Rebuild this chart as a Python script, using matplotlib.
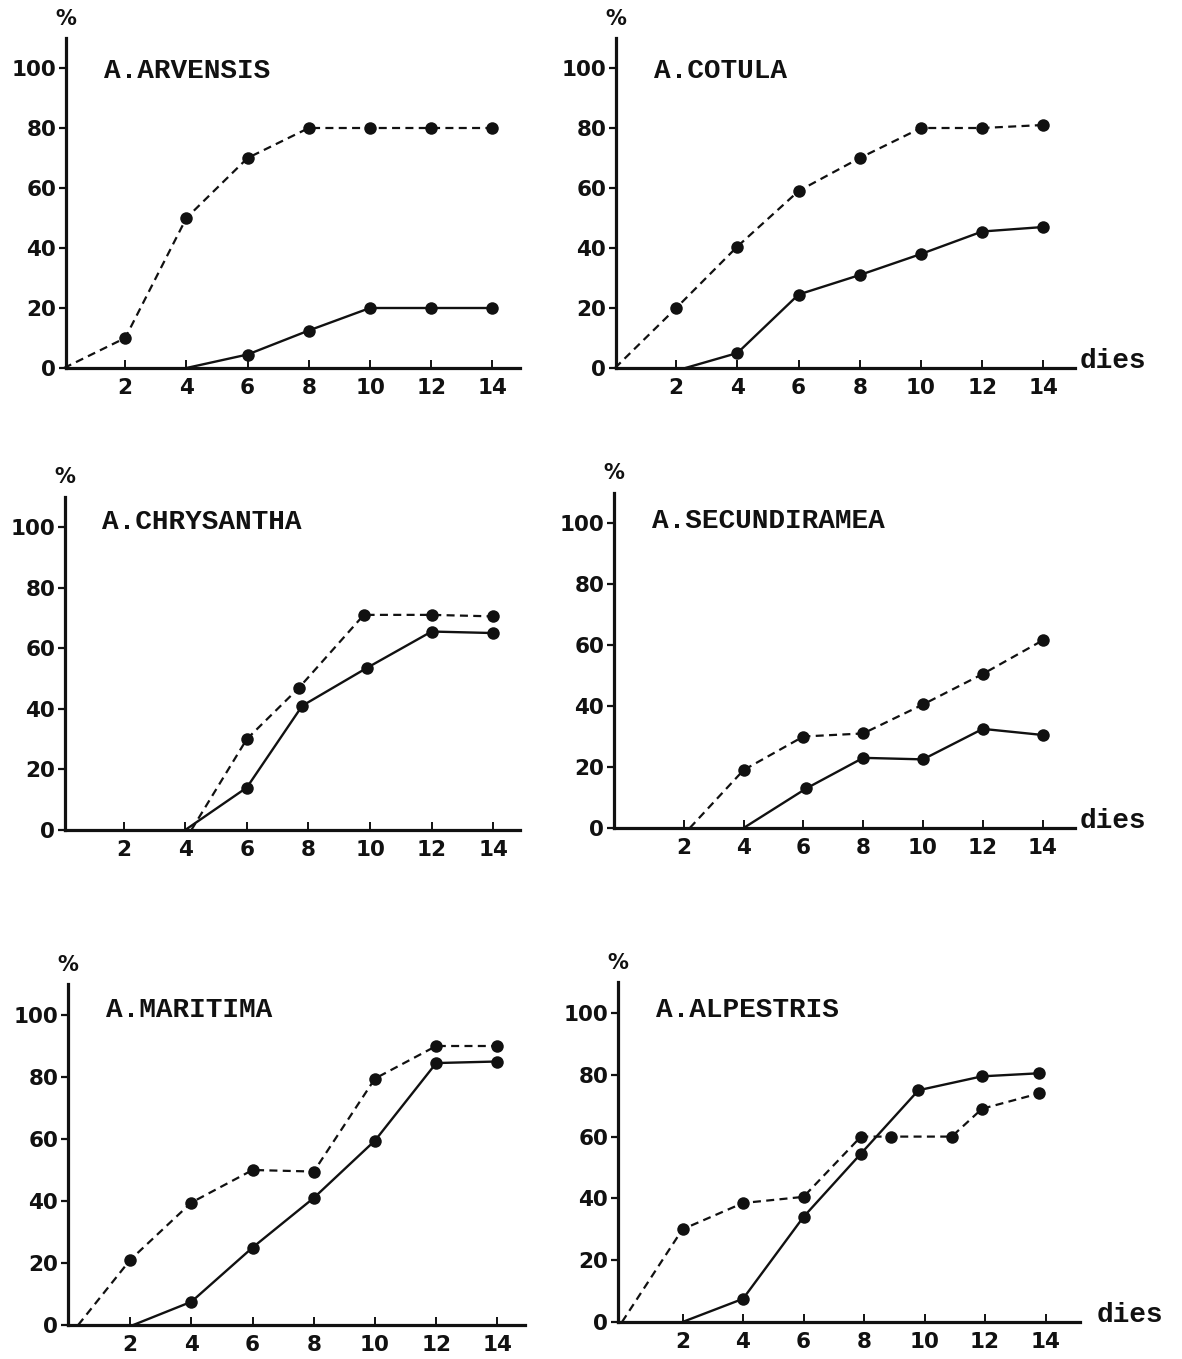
import matplotlib.pyplot as plt

# germination curves, six Anthemis species (days vs %)
species = ["A.ARVENSIS", "A.COTULA", "A.CHRYSANTHA",
           "A.SECUNDIRAMEA", "A.MARITIMA", "A.ALPESTRIS"]
day_ticks = [2, 4, 6, 8, 10, 12, 14]
pct_ticks = [0, 20, 40, 60, 80, 100]

# first point of every series is where the curve leaves the axis (no marker)
arvensis_dash_x = [0, 2, 4, 6, 8, 10, 12, 14]
arvensis_dash_y = [0, 10, 50, 70, 80, 80, 80, 80]
arvensis_solid_x = [4, 6, 8, 10, 12, 14]
arvensis_solid_y = [0, 4.5, 12.5, 20, 20, 20]

cotula_dash_x = [0, 2, 4, 6, 8, 10, 12, 14]
cotula_dash_y = [0, 20, 40.5, 59, 70, 80, 80, 81]
cotula_solid_x = [2.3, 4, 6, 8, 10, 12, 14]
cotula_solid_y = [0, 5, 24.5, 31, 38, 45.5, 47]

chrysantha_dash_x = [4.2, 6, 7.7, 9.8, 12, 14]
chrysantha_dash_y = [0, 30, 47, 71, 71, 70.5]
chrysantha_solid_x = [4, 6, 7.8, 9.9, 12, 14]
chrysantha_solid_y = [0, 14, 41, 53.5, 65.5, 65]

secundiramea_dash_x = [2.2, 4, 6, 8, 10, 12, 14]
secundiramea_dash_y = [0, 19, 30, 31, 40.5, 50.5, 61.5]
secundiramea_solid_x = [4, 6.1, 8, 10, 12, 14]
secundiramea_solid_y = [0, 13, 23, 22.5, 32.5, 30.5]

maritima_dash_x = [0.3, 2, 4, 6, 8, 10, 12, 14]
maritima_dash_y = [0, 21, 39.5, 50, 49.5, 79.5, 90, 90]
maritima_solid_x = [2.1, 4, 6, 8, 10, 12, 14]
maritima_solid_y = [0, 7.5, 25, 41, 59.5, 84.5, 85]

alpestris_dash_x = [0, 2, 4, 6, 7.9, 8.9, 10.9, 11.9, 13.8]
alpestris_dash_y = [0, 30, 38.5, 40.5, 60, 60, 60, 69, 74]
alpestris_solid_x = [2, 4, 6, 7.9, 9.8, 11.9, 13.8]
alpestris_solid_y = [0, 7.5, 34, 54.5, 75, 79.5, 80.5]

dash_x = [arvensis_dash_x, cotula_dash_x, chrysantha_dash_x,
          secundiramea_dash_x, maritima_dash_x, alpestris_dash_x]
dash_y = [arvensis_dash_y, cotula_dash_y, chrysantha_dash_y,
          secundiramea_dash_y, maritima_dash_y, alpestris_dash_y]
solid_x = [arvensis_solid_x, cotula_solid_x, chrysantha_solid_x,
           secundiramea_solid_x, maritima_solid_x, alpestris_solid_x]
solid_y = [arvensis_solid_y, cotula_solid_y, chrysantha_solid_y,
           secundiramea_solid_y, maritima_solid_y, alpestris_solid_y]
show_dies = [False, True, False, True, False, True]

W, H = 1182, 1359
INK = "#111111"

# pixel layout of each panel: left edge, right edge, pixel of day 0,
# pixels per day, pixel of 0 %, pixel of 100 %, gap before "dies", title height
layout = [
    (66, 520, 64, 30.6, 368, 68, 3, 99.0),
    (616, 1075, 615, 30.6, 368, 68, 3, 99.0),
    (65, 520, 62, 30.8, 830, 527, 3, 101.5),
    (614, 1075, 624, 29.9, 828, 523, 3, 100.5),
    (68, 525, 69, 30.6, 1325, 1015, 3, 101.5),
    (618, 1080, 622, 30.25, 1322, 1013, 12, 101.0),
]

fig = plt.figure(figsize=(W / 100, H / 100), dpi=100)
fig.patch.set_facecolor("white")

for i, name in enumerate(species):
    left, right, x0, ppd, y0, y100, gap, title_y = layout[i]
    ymax = 110
    ytop = y0 - (y0 - y100) * ymax / 100
    ax = fig.add_axes([left / W, 1 - y0 / H, (right - left) / W, (y0 - ytop) / H])
    ax.set_xlim((left - x0) / ppd, (right - x0) / ppd)
    ax.set_ylim(0, ymax)

    ax.plot(dash_x[i], dash_y[i], color=INK, lw=1.6, ls=(0, (3.6, 2.4)),
            marker="o", ms=9, mew=0, markevery=slice(1, None), clip_on=False)
    ax.plot(solid_x[i], solid_y[i], color=INK, lw=1.7, ls="-",
            marker="o", ms=9, mew=0, markevery=slice(1, None), clip_on=False)

    for side in ["top", "right"]:
        ax.spines[side].set_visible(False)
    for side in ["left", "bottom"]:
        ax.spines[side].set_linewidth(2.3)
        ax.spines[side].set_color(INK)

    ax.set_xticks(day_ticks)
    ax.set_yticks(pct_ticks)
    ax.tick_params(axis="x", direction="in", length=6, width=1.4, pad=7,
                   colors=INK, labelsize=15.5)
    ax.tick_params(axis="y", direction="out", length=5, width=1.6, pad=2,
                   colors=INK, labelsize=15.5)
    for lab in ax.get_xticklabels() + ax.get_yticklabels():
        lab.set_fontweight("bold")
        lab.set_family("DejaVu Sans")

    ax.annotate("%", xy=(0, 1), xycoords="axes fraction", xytext=(0, 14),
                textcoords="offset points", ha="center", va="center",
                fontsize=15, fontweight="bold", color=INK)
    ax.annotate(name, xy=(0, title_y), xycoords=("axes fraction", "data"),
                xytext=(27, 0), textcoords="offset points", ha="left",
                va="center", fontsize=20, fontweight="bold",
                family="Liberation Mono", color=INK)
    if show_dies[i]:
        ax.annotate("dies", xy=(1, 0), xycoords="axes fraction",
                    xytext=(gap, 5), textcoords="offset points", ha="left",
                    va="center", fontsize=20, fontweight="bold",
                    family="Liberation Mono", color=INK)

fig.savefig("out.png", dpi=100, facecolor="white")
